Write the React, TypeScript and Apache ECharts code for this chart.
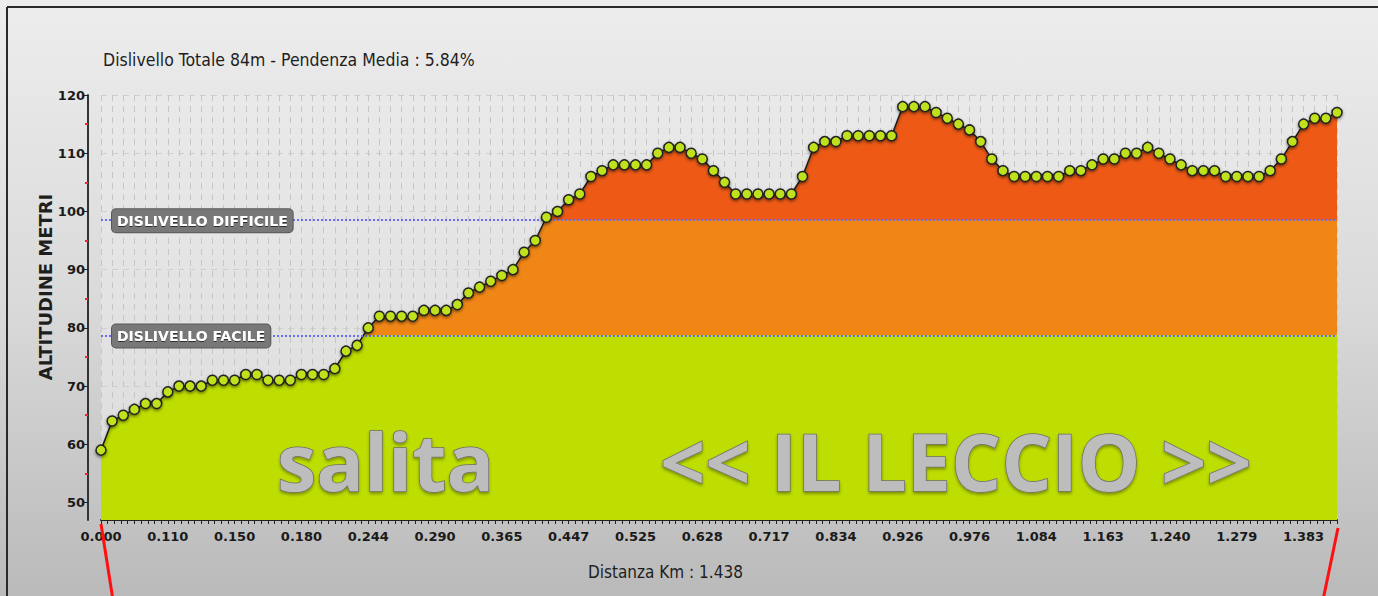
import React, { useEffect, useRef } from "react";
import * as echarts from "echarts";

// ---- data ----
const distanceTickLabels = [
  "0.000", "0.110", "0.150", "0.180", "0.244", "0.290", "0.365", "0.447", "0.525", "0.628",
  "0.717", "0.834", "0.926", "0.976", "1.084", "1.163", "1.240", "1.279", "1.383",
];
const labelEvery = 6;
const altitudes = [
  59, 64, 65, 66, 67, 67, 69, 70, 70, 70,
  71, 71, 71, 72, 72, 71, 71, 71, 72, 72,
  72, 73, 76, 77, 80, 82, 82, 82, 82, 83,
  83, 83, 84, 86, 87, 88, 89, 90, 93, 95,
  99, 100, 102, 103, 106, 107, 108, 108, 108, 108,
  110, 111, 111, 110, 109, 107, 105, 103, 103, 103,
  103, 103, 103, 106, 111, 112, 112, 113, 113, 113,
  113, 113, 118, 118, 118, 117, 116, 115, 114, 112,
  109, 107, 106, 106, 106, 106, 106, 107, 107, 108,
  109, 109, 110, 110, 111, 110, 109, 108, 107, 107,
  107, 106, 106, 106, 106, 107, 109, 112, 115, 116,
  116, 117,
];
const yLabelValues = [50, 60, 70, 80, 90, 100, 110, 120];
const yMinorValues = [55, 65, 75, 85, 95, 105, 115];
const thresholdFacile = 78.7;
const thresholdDifficile = 98.5;
const titleText = "Dislivello Totale 84m - Pendenza Media : 5.84%";
const xName = "Distanza Km : 1.438";
const yName = "ALTITUDINE METRI";
const bigLeft = "salita";
const bigRight = "<< IL LECCIO >>";

const GREEN = "#bedd00";
const ORANGE = "#f08616";
const RED = "#ee5a16";

const narrow = '"Liberation Sans Narrow", "DejaVu Sans Condensed", sans-serif';
const axisFont = '"DejaVu Sans", sans-serif';

export default function App() {
  const ref = useRef<HTMLDivElement>(null);

  useEffect(() => {
    if (!ref.current) return;
    const chart = echarts.init(ref.current, null, { renderer: "svg" });

    const categories = altitudes.map((_, i) =>
      i % labelEvery === 0 ? distanceTickLabels[i / labelEvery] ?? "" : ""
    );

    const markLabel = (text: string) => ({
      show: true,
      formatter: text,
      position: "insideStartTop",
      distance: 0,
      offset: [11, 12],
      color: "#ffffff",
      fontFamily: axisFont,
      fontWeight: "bold",
      fontSize: 14,
      lineHeight: 17,
      backgroundColor: "#787878",
      borderColor: "#585858",
      borderWidth: 1,
      borderRadius: 4,
      padding: [3, 5, 3, 5],
      textShadowColor: "rgba(0,0,0,0.6)",
      textShadowBlur: 1,
      textShadowOffsetY: 1,
    });

    const bigText = (text: string, x: number) => ({
      type: "text",
      silent: true,
      z: 20,
      style: {
        text,
        x,
        y: 460,
        textVerticalAlign: "middle",
        fontFamily: '"Open Sans", sans-serif',
        fontWeight: "bold",
        fontSize: 79,
        fill: "#bdbdbd",
        stroke: "#6e6e6e",
        lineWidth: 1.5,
        textShadowColor: "rgba(0,0,0,0.35)",
        textShadowBlur: 3,
        textShadowOffsetY: 2,
      },
    });

    const option: any = {
      animation: false,
      graphic: [
        {
          type: "rect",
          z: -100,
          silent: true,
          shape: { x: 0, y: 0, width: 1378, height: 596 },
          style: {
            fill: new echarts.graphic.LinearGradient(0, 0, 0, 1, [
              { offset: 0, color: "#ededed" },
              { offset: 0.5, color: "#dadada" },
              { offset: 1, color: "#bababa" },
            ]),
          },
        },
        {
          type: "line",
          silent: true,
          shape: { x1: 7, y1: 7, x2: 1378, y2: 7 },
          style: { stroke: "#2a2a2a", lineWidth: 2 },
        },
        {
          type: "line",
          silent: true,
          shape: { x1: 7, y1: 7, x2: 7, y2: 596 },
          style: { stroke: "#2a2a2a", lineWidth: 2 },
        },
        {
          type: "text",
          silent: true,
          style: {
            text: titleText,
            x: 103,
            y: 60,
            textVerticalAlign: "middle",
            fontFamily: narrow,
            fontSize: 17.5,
            fill: "#1e1e1e",
          },
        },
        {
          type: "text",
          silent: true,
          style: {
            text: xName,
            x: 588,
            y: 572,
            textVerticalAlign: "middle",
            fontFamily: narrow,
            fontSize: 17,
            fill: "#1e1e1e",
          },
        },
        {
          type: "text",
          silent: true,
          x: 45,
          y: 287,
          rotation: Math.PI / 2,
          style: {
            text: yName,
            x: 0,
            y: 0,
            textAlign: "center",
            textVerticalAlign: "middle",
            fontFamily: axisFont,
            fontWeight: "bold",
            fontSize: 18,
            fill: "#1e1e1e",
          },
        },
        bigText(bigLeft, 277),
        bigText(bigRight, 660),
        {
          type: "line",
          silent: true,
          z: 30,
          shape: { x1: 113, y1: 600, x2: 101, y2: 524 },
          style: { stroke: "#ff1010", lineWidth: 3 },
        },
        {
          type: "line",
          silent: true,
          z: 30,
          shape: { x1: 1323, y1: 600, x2: 1338, y2: 528 },
          style: { stroke: "#ff1010", lineWidth: 3 },
        },
      ],
      grid: {
        left: 101,
        right: 41,
        top: 95,
        bottom: 76,
        show: true,
        borderWidth: 0,
        backgroundColor: new echarts.graphic.LinearGradient(0, 0, 0, 1, [
          { offset: 0, color: "#e9e9e9" },
          { offset: 1, color: "#dcdcdc" },
        ]),
      },
      visualMap: {
        type: "piecewise",
        show: false,
        dimension: 1,
        seriesIndex: 0,
        pieces: [
          { lt: thresholdFacile, color: GREEN },
          { gte: thresholdFacile, lt: thresholdDifficile, color: ORANGE },
          { gte: thresholdDifficile, color: RED },
        ],
      },
      xAxis: [
        {
          type: "category",
          data: categories,
          boundaryGap: false,
          axisLine: { show: false },
          axisTick: { show: false },
          axisLabel: {
            interval: labelEvery - 1,
            color: "#1a1a1a",
            fontFamily: axisFont,
            fontWeight: "bold",
            fontSize: 13,
            margin: 10,
          },
          splitLine: {
            show: true,
            interval: 0,
            lineStyle: { color: "#c6c6c6", type: [6, 5], width: 1 },
          },
        },
        {
          type: "value",
          min: 0,
          max: altitudes.length - 1,
          interval: 0.6,
          position: "bottom",
          axisLine: { show: true, onZero: false, lineStyle: { color: "#222", width: 2 } },
          axisTick: { show: true, length: 4, lineStyle: { color: "#222", width: 1 } },
          axisLabel: { show: false },
          splitLine: { show: false },
        },
      ],
      yAxis: [
        {
          type: "value",
          min: 47,
          max: 120,
          offset: 13,
          axisLine: { show: true, onZero: false, lineStyle: { color: "#333", width: 2 } },
          axisTick: {
            show: true,
            customValues: yLabelValues,
            length: 5,
            lineStyle: { color: "#222", width: 1 },
          },
          axisLabel: {
            customValues: yLabelValues,
            color: "#1a1a1a",
            fontFamily: axisFont,
            fontWeight: "bold",
            fontSize: 13,
            margin: 3,
          },
          splitLine: {
            show: true,
            lineStyle: { color: "#cfcfcf", type: [6, 5], width: 1 },
          },
        },
        {
          type: "value",
          min: 47,
          max: 120,
          offset: 13,
          position: "left",
          axisLine: { show: false, onZero: false },
          axisTick: {
            show: true,
            customValues: yMinorValues,
            length: 3,
            lineStyle: { color: "#ff2020", width: 2 },
          },
          axisLabel: { show: false },
          splitLine: { show: false },
        },
      ],
      series: [
        {
          type: "line",
          data: altitudes,
          xAxisIndex: 0,
          yAxisIndex: 0,
          showSymbol: false,
          z: 2,
          lineStyle: {
            color: "#1a1a1a",
            width: 1.5,
            shadowBlur: 3,
            shadowColor: "rgba(0,0,0,0.45)",
            shadowOffsetY: 2,
          },
          areaStyle: { opacity: 1 },
          markLine: {
            silent: true,
            symbol: "none",
            lineStyle: { color: "#6c6cf2", type: "dotted", width: 2 },
            data: [
              { yAxis: thresholdDifficile, label: markLabel("DISLIVELLO DIFFICILE") },
              { yAxis: thresholdFacile, label: markLabel("DISLIVELLO FACILE") },
            ],
          },
        },
        {
          type: "line",
          data: altitudes,
          xAxisIndex: 0,
          yAxisIndex: 0,
          z: 5,
          symbol: "circle",
          symbolSize: 10,
          showSymbol: true,
          showAllSymbol: true,
          lineStyle: { width: 0, opacity: 0 },
          itemStyle: {
            color: "#bfe21c",
            borderColor: "#222",
            borderWidth: 1.5,
            shadowBlur: 3,
            shadowColor: "rgba(0,0,0,0.5)",
            shadowOffsetY: 1.5,
          },
        },
      ],
    };

    chart.setOption(option);
    return () => chart.dispose();
  }, []);

  return (
    <div
      ref={ref}
      style={{ position: "absolute", left: 0, top: 0, width: 1378, height: 596 }}
    />
  );
}
